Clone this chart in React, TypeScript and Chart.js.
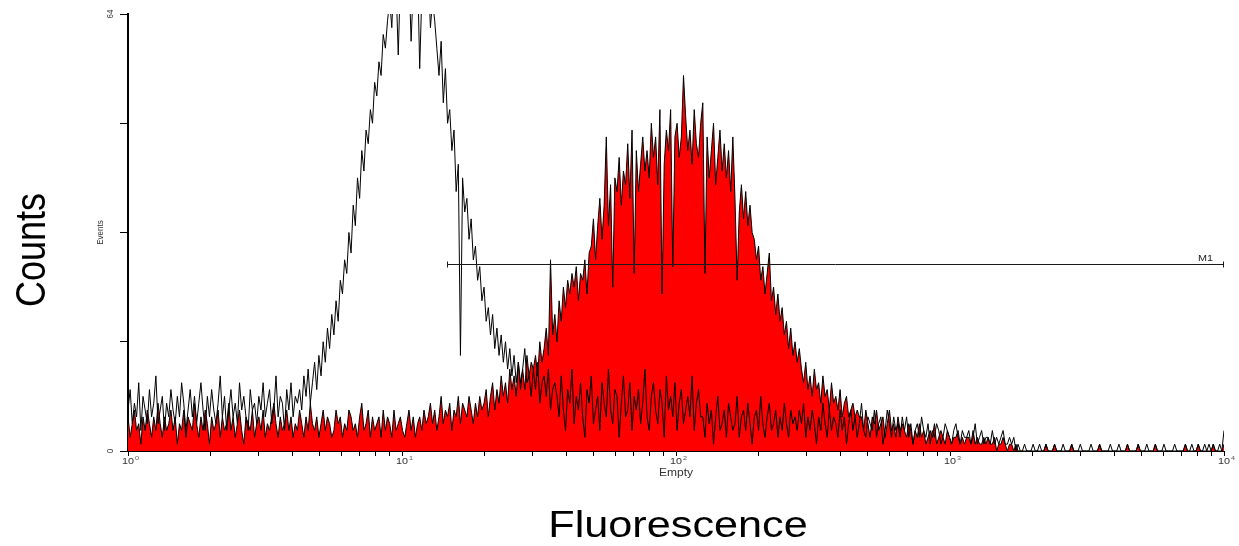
import { useEffect, useRef } from 'react';
import { Chart, registerables } from 'chart.js';

Chart.register(...registerables);

// ---- data ----
const CHANNEL_MAX = 511; // channels 0..511 span 4 decades (10^0 .. 10^4)
const DECADES = 4;
const DECADE_BASE = '10';
const DECADE_EXPONENTS = ['0', '1', '2', '3', '4'];
const Y_MAX = 64;
const Y_TICKS = [0, 16, 32, 48, 64];
const Y_TICK_LABELS = ['0', '', '', '', '64'];

// unstained control (black outline)
const CONTROL_COUNTS = [
  6, 9, 4, 7, 5, 10, 3, 8, 6, 4, 9, 5, 7, 11, 4, 6, 8, 3, 7, 5,
  9, 6, 4, 8, 5, 10, 7, 3, 6, 9, 5, 8, 4, 7, 10, 6, 3, 8, 5, 9,
  6, 4, 7, 11, 5, 8, 3, 6, 9, 5, 7, 4, 10, 6, 8, 5, 3, 9, 6, 7,
  4, 8, 6, 10, 5, 7, 9, 4, 6, 11, 5, 8, 7, 3, 9, 6, 10, 5, 8, 7,
  9, 6, 11, 8, 12, 7, 10, 13, 9, 14, 11, 16, 13, 18, 15, 20, 17, 22, 19, 25,
  23, 28, 26, 32, 29, 36, 33, 40, 37, 44, 41, 47, 45, 50, 48, 54, 52, 57, 55, 61, 59, 63,
  66, 62, 70, 68, 58, 69, 72, 65, 67, 70, 60, 68, 66, 71, 56, 67, 69, 64, 70, 62, 66, 63,
  59, 55, 60, 51, 56, 48, 50, 44, 47, 38, 42, 14, 40, 35,
  37, 31, 34, 28, 30, 25, 27, 22, 24, 19, 21, 17, 20, 15, 18, 14, 17, 13,
  16, 12, 15, 11, 14, 10, 13, 9, 12, 15, 10, 11, 8, 12, 9, 13, 7, 10, 11, 8, 12, 6, 9, 10,
  8, 5, 11, 6, 3, 9, 7, 12, 4, 8, 6, 10, 5, 2, 9, 7, 11, 4, 6, 8,
  3, 10, 7, 5, 12, 6, 4, 9, 8, 2, 7, 11, 5, 6, 10, 3, 8, 6, 9, 4,
  7, 12, 5, 3, 8, 10, 6, 4, 9, 7, 2, 11, 6, 8, 5, 10, 3, 7, 9, 4,
  6, 8, 5, 11, 3, 7, 9, 5,
  5, 2, 7, 4, 6, 1, 5, 8, 3, 4, 6, 2, 7, 5, 3, 4, 8, 2, 5, 6,
  3, 7, 4, 1, 5, 6, 3, 8, 4, 2, 5, 7, 3, 4, 6, 2, 5, 3, 7, 4,
  2, 6, 4, 5, 3, 6,
  4, 7, 2, 5, 3, 6, 4, 1, 5, 3, 7, 4, 2, 6, 3, 5, 4, 2, 6, 3,
  5, 1, 4, 6, 3, 5, 2, 4, 7, 3, 2, 5, 4, 3, 6, 2, 4, 5, 1, 3,
  6, 4, 2, 5, 3, 4, 2, 5,
  3, 5, 2, 4, 1, 3, 4, 2, 5, 3, 2, 4, 1, 3, 2, 4, 3, 1, 2, 4,
  3, 2, 1, 3, 4, 2, 1, 3, 2, 2, 3, 1, 2, 4, 1, 2, 3, 1, 2, 2,
  1, 3, 1, 2, 1, 2, 3, 1, 1, 2, 1, 2, 0, 1,
  0, 0, 1, 0, 0, 0, 1, 0, 0, 1, 0, 0, 1, 0, 0, 0, 1, 0, 0, 0,
  1, 0, 0, 0, 1, 0, 0, 0, 1, 0, 0, 0, 0, 1, 0, 0, 0, 1, 0, 0,
  0, 0, 1, 0, 0, 0, 1, 0, 0, 0, 1, 0, 0, 0, 0, 1, 0, 0, 0, 1,
  0, 0, 0, 1, 0, 0, 0, 1, 0, 0, 0, 0, 1, 0, 0, 0, 0, 1, 0, 0,
  1, 0, 0, 1, 0, 0, 1, 0, 1, 0, 1, 0, 0, 1, 0, 3,
];

// stained sample (red filled)
const SAMPLE_COUNTS = [
  5, 2, 4, 6, 3, 4, 1, 5, 3, 6, 4, 2, 5, 3, 7, 4, 2, 5, 3, 4,
  6, 3, 5, 1, 4, 3, 6, 2, 5, 4, 3, 7, 4, 2, 5, 3, 6, 4, 1, 5,
  3, 4, 6, 2, 5, 3, 4, 7, 3, 5, 2, 4, 6, 3, 1, 5, 4, 3, 6, 2,
  4, 5, 3, 6, 2, 4, 3, 5, 7, 4, 2, 5, 3, 4, 6, 3, 5, 2, 4, 3,
  6, 4, 2, 5, 3, 7, 4, 3, 5, 2, 4, 6, 3, 5, 4, 2, 3, 6, 4, 5,
  2, 4, 3, 6, 5, 3, 4, 2, 5, 7, 3, 4, 6, 2, 5, 3, 4, 5, 2, 6,
  3, 5, 4, 2, 6, 3, 4, 5, 3, 2, 4, 6, 3, 5, 2, 4, 5, 3, 6, 4,
  5, 7, 4, 6, 3, 5, 8, 4, 6, 5, 7, 3, 6, 5, 8, 4, 7, 6, 5, 8, 6, 4, 7, 5, 8, 6,
  7, 9, 5, 8, 10, 6, 9, 7, 11, 8, 10, 7, 12, 9, 11, 8, 13, 10, 12, 9, 14, 11, 13, 12,
  14, 11, 16, 13, 15, 18, 14, 28, 17, 20, 16, 22, 19, 24, 21, 25, 23, 26,
  24, 27, 22, 26, 25, 28, 23, 29,
  30, 34, 28, 33, 37, 31, 36, 46, 33, 39, 24, 40,
  38, 43, 36, 41, 39, 45, 37, 47, 26, 44, 38, 42, 46, 41,
  44, 40, 48, 43, 46, 39, 50, 23, 42, 47, 44, 50, 27, 46,
  48, 43, 46, 55, 49, 44, 47, 42, 50, 45, 43, 48,
  51, 26, 46, 40, 44, 48, 39, 43, 47, 41, 45, 40, 44, 38,
  46, 37, 25, 35, 39, 34, 38, 33, 36, 32,
  31, 28, 30, 25, 27, 23, 26, 29, 22, 24, 20, 23, 19, 21, 17, 19, 15, 18, 14, 16, 13, 15,
  12, 10, 13, 9, 11, 8, 12, 9, 10, 7, 11, 8, 9, 6, 10, 7, 8, 6, 9, 5, 7, 8, 5, 6, 7, 5, 6, 5,
  5, 3, 6, 4, 2, 5, 4, 6, 3, 4, 5, 2, 4, 6, 3, 4, 2, 5, 3, 4,
  3, 2, 4, 3, 1, 3, 2, 4, 2, 3, 1, 2, 3, 2, 4, 1, 2, 3, 2, 1,
  3, 2, 1, 2, 2, 3, 1, 2, 1, 2, 2, 1, 3, 1, 2, 1, 1, 2, 1, 2,
  1, 1, 2, 0, 1, 1, 2, 1, 0, 1, 1, 0, 1, 0,
  0, 0, 0, 0, 0, 0, 0, 0, 0, 0, 0, 0, 1, 0, 0, 0, 1, 0, 0, 0,
  0, 0, 0, 0, 1, 0, 0, 0, 0, 0, 0, 0, 0, 0, 0, 0, 0, 1, 0, 0,
  0, 0, 0, 0, 0, 0, 0, 0, 0, 0, 1, 0, 0, 0, 0, 1, 0, 0, 0, 0,
  0, 0, 0, 1, 0, 0, 0, 0, 0, 0, 0, 0, 0, 0, 0, 0, 0, 1, 0, 0,
  0, 0, 0, 1, 0, 0, 0, 0, 0, 0, 1, 0, 0, 0, 0, 1,
];

// marker region M1
const M1_LABEL = 'M1';
const M1_START = 148.7;
const M1_END = 511;
const M1_LEVEL = 27.4;

const X_TITLE = 'Fluorescence';
const Y_TITLE = 'Counts';
const X_PARAM = 'Empty';
const Y_PARAM = 'Events';

const FONT = '"Liberation Sans", Arial, Helvetica, sans-serif';
const STRETCH = 1.2;

function stretchedText(
  ctx: CanvasRenderingContext2D,
  text: string,
  x: number,
  y: number,
  size: number,
  rotate: boolean,
  color: string,
  align: CanvasTextAlign = 'center',
  baseline: CanvasTextBaseline = 'alphabetic'
) {
  ctx.save();
  ctx.translate(x, y);
  ctx.scale(STRETCH, 1);
  if (rotate) ctx.rotate(-Math.PI / 2);
  ctx.font = `${size}px ${FONT}`;
  ctx.fillStyle = color;
  ctx.textAlign = align;
  ctx.textBaseline = baseline;
  ctx.fillText(text, 0, 0);
  ctx.restore();
}

const decorPlugin = {
  id: 'decor',
  afterDatasetsDraw(chart: any) {
    const { ctx } = chart;
    const xs = chart.scales.x;
    const ys = chart.scales.y;
    const x0 = Math.round(xs.getPixelForValue(M1_START)) + 0.5;
    const x1 = Math.round(xs.getPixelForValue(M1_END)) - 0.5;
    const yy = Math.round(ys.getPixelForValue(M1_LEVEL)) + 0.5;
    ctx.save();
    ctx.strokeStyle = '#1a1a1a';
    ctx.lineWidth = 1;
    ctx.beginPath();
    ctx.moveTo(x0, yy);
    ctx.lineTo(x1, yy);
    ctx.moveTo(x0, yy - 3);
    ctx.lineTo(x0, yy + 3);
    ctx.moveTo(x1, yy - 3);
    ctx.lineTo(x1, yy + 3);
    ctx.stroke();
    ctx.restore();
    stretchedText(ctx, M1_LABEL, x1 - 18, yy - 4, 9, false, '#222');
  },
  afterDraw(chart: any) {
    const { ctx } = chart;
    const xs = chart.scales.x;
    const ys = chart.scales.y;
    const bottom = chart.chartArea.bottom;
    const left = chart.chartArea.left;
    const perDecade = CHANNEL_MAX / DECADES;

    // x decade labels 10^n
    DECADE_EXPONENTS.forEach((exp, d) => {
      const px = xs.getPixelForValue(d * perDecade);
      ctx.save();
      ctx.font = `9px ${FONT}`;
      const w = ctx.measureText(DECADE_BASE).width * STRETCH;
      ctx.restore();
      stretchedText(ctx, DECADE_BASE, px, bottom + 13, 9, false, '#333');
      stretchedText(ctx, exp, px + w / 2 + 1, bottom + 9, 6, false, '#555', 'left');
    });

    // y labels (rotated)
    Y_TICKS.forEach((v, i) => {
      const label = Y_TICK_LABELS[i];
      if (!label) return;
      const py = ys.getPixelForValue(v);
      stretchedText(ctx, label, left - 18, py, 8, true, '#333', 'center', 'middle');
    });

    // small parameter labels
    stretchedText(ctx, X_PARAM, (chart.chartArea.left + chart.chartArea.right) / 2, bottom + 25, 10, false, '#333');
    stretchedText(ctx, Y_PARAM, 103, ys.getPixelForValue(32), 8, true, '#333');

    // big titles
    stretchedText(ctx, X_TITLE, 678, 537, 36, false, '#000');
    stretchedText(ctx, Y_TITLE, 45, 250, 36, true, '#000');
  },
};

export default function App() {
  const canvasRef = useRef<HTMLCanvasElement | null>(null);

  useEffect(() => {
    const canvas = canvasRef.current;
    if (!canvas) return;
    const perDecade = CHANNEL_MAX / DECADES;
    const toPoints = (arr: number[]) => arr.map((v, i) => ({ x: i, y: v }));

    const chart = new Chart(canvas, {
      type: 'line',
      data: {
        datasets: [
          {
            label: 'Control',
            data: toPoints(CONTROL_COUNTS),
            borderColor: '#000000',
            borderWidth: 1,
            fill: false,
            pointRadius: 0,
            tension: 0,
          },
          {
            label: 'Sample',
            data: toPoints(SAMPLE_COUNTS),
            borderColor: '#000000',
            backgroundColor: '#ff0000',
            borderWidth: 1,
            fill: 'origin',
            pointRadius: 0,
            tension: 0,
          },
        ],
      },
      options: {
        animation: false,
        responsive: false,
        events: [],
        layout: { padding: { left: 0, right: 15, top: 14, bottom: 0 } },
        plugins: {
          legend: { display: false },
          tooltip: { enabled: false },
        },
        scales: {
          x: {
            type: 'linear',
            min: 0,
            max: CHANNEL_MAX,
            afterFit: (s: any) => {
              s.height = 95;
            },
            afterBuildTicks: (s: any) => {
              const t: { value: number }[] = [];
              for (let d = 0; d < DECADES; d++) {
                for (let k = 1; k <= 9; k++) {
                  t.push({ value: perDecade * (d + Math.log10(k)) });
                }
              }
              t.push({ value: CHANNEL_MAX });
              s.ticks = t;
            },
            ticks: { display: false, autoSkip: false },
            grid: {
              display: true,
              drawOnChartArea: false,
              drawTicks: true,
              tickLength: 5,
              color: '#000',
              tickColor: '#000',
              lineWidth: 1,
            },
            border: { display: true, color: '#000', width: 1 },
          },
          y: {
            type: 'linear',
            min: 0,
            max: Y_MAX,
            afterFit: (s: any) => {
              s.width = 128;
            },
            afterBuildTicks: (s: any) => {
              s.ticks = Y_TICKS.map((v) => ({ value: v }));
            },
            ticks: { display: false, autoSkip: false },
            grid: {
              display: true,
              drawOnChartArea: false,
              drawTicks: true,
              tickLength: 8,
              color: '#000',
              tickColor: '#000',
              lineWidth: 1,
            },
            border: { display: true, color: '#000', width: 2 },
          },
        },
      },
      plugins: [decorPlugin],
    });

    return () => {
      chart.destroy();
    };
  }, []);

  return (
    <div style={{ position: 'absolute', left: 0, top: 0, width: 1239, height: 546, background: '#fff' }}>
      <canvas ref={canvasRef} width={1239} height={546} style={{ display: 'block' }} />
    </div>
  );
}
